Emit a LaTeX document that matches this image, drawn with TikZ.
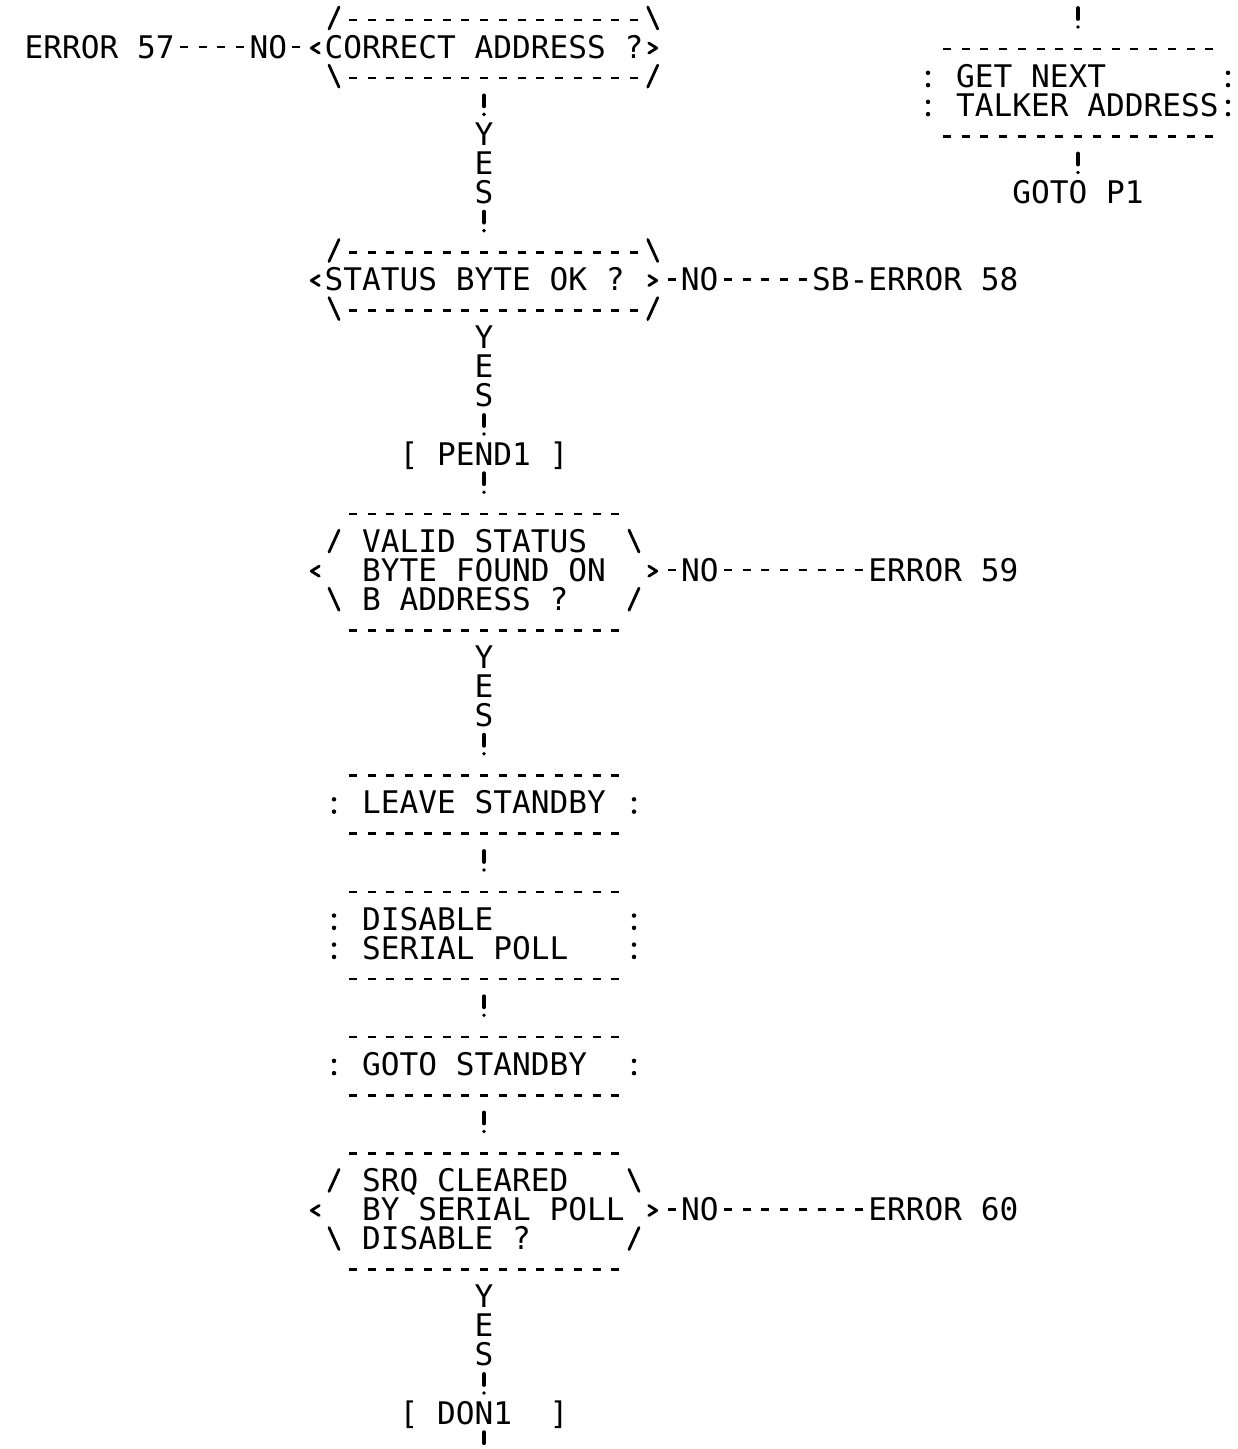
\documentclass[tikz,border=0pt]{standalone}
\usepackage{fontspec}
\setmonofont{DejaVu Sans Mono}

\begin{document}
\begin{tikzpicture}[
  x=1pt, y=-1pt,
  every node/.append style={font=\ttfamily\fontsize{31.14pt}{29.06pt}\selectfont, inner sep=0pt,
    execute at begin node={\spaceskip=18.7479pt\relax\xspaceskip=18.7479pt\relax}},
  lbl/.style={text height=22.7pt, text depth=0pt, minimum height=29.06pt},
  nolbl/.style={lbl, fill=white},
  yes/.style={fill=white, text width=18.75pt, align=center, minimum height=87.18pt},
  decision/.style={text width=318.75pt, align=left, inner xsep=18.75pt, minimum height=87.18pt},
  query/.style={text width=243.75pt, align=left, inner xsep=56.25pt, minimum height=145.3pt},
  procbox/.style={text width=243.75pt, align=left, inner xsep=37.5pt, minimum height={29.06pt*(#1+2)}},
  dashline/.style={line width=2.6pt, dash pattern=on 8pt off 10.75pt},
  colons/.style={line width=4.5pt, line cap=round, dash pattern=on 0pt off 12.3pt on 0pt off 16.76pt},
  glyph/.style={line width=2.8pt, line cap=round, line join=round},
  noline/.style={line width=2.6pt, dash pattern=on 8pt off 10.75pt, dash phase=13.375pt},
  bang/.style={line width=3.8pt, line cap=round, dash pattern=on 11pt off 8pt on 0pt off 10.06pt, dash phase=24.53pt},
  pics/boxframe/.style={code={
    \draw[dashline] (-135.25,{-14.53*(#1+1)+2}) -- (135.25,{-14.53*(#1+1)+2});
    \draw[dashline] (-135.25,{14.53*(#1+1)+2}) -- (135.25,{14.53*(#1+1)+2});
    \foreach \sx in {-150,150}
      \draw[colons] (\sx,{-14.53*(#1-1)-3.3}) -- (\sx,{14.53*(#1-1)+9.5});
  }},
  pics/hexone/.style={code={
    \draw[dashline] (-135.25,-27.06) -- (154,-27.06);
    \draw[dashline] (-135.25,31.06) -- (154,31.06);
    \draw[glyph] (-155,-18.06) -- (-145,-40.06) (163.75,-40.06) -- (173.75,-18.06);
    \draw[glyph] (-164.75,-4) -- (-172.75,1) -- (-164.75,6) (164.75,-4) -- (172.75,1) -- (164.75,6);
    \draw[glyph] (-155,18.06) -- (-145,40.06) (163.75,40.06) -- (173.75,18.06);
  }},
  pics/hexthree/.style={code={
    \draw[dashline] (-135.25,-56.12) -- (135.25,-56.12);
    \draw[dashline] (-135.25,60.12) -- (135.25,60.12);
    \draw[glyph] (-155,-18.06) -- (-145,-40.06) (145,-40.06) -- (155,-18.06);
    \draw[glyph] (-164.75,-4) -- (-172.75,1) -- (-164.75,6) (164.75,-4) -- (172.75,1) -- (164.75,6);
    \draw[glyph] (-155,18.06) -- (-145,40.06) (145,40.06) -- (155,18.06);
  }}
]
\path[use as bounding box, fill=white] (0,0) rectangle (1238,1449);

\node[decision] (correct) at (484,47.06) {CORRECT ADDRESS ?};
\node[lbl] (err57) at (99.63,47.06) {ERROR 57};
\node[decision] (status) at (484,279.54) {STATUS BYTE OK ?};
\node[lbl] (err58) at (915.25,279.54) {SB-ERROR 58};
\node[lbl] (pend1) at (484,453.9) {[ PEND1 ]};
\node[query] (valid) at (484,570.14) {VALID STATUS\\BYTE FOUND ON\\B ADDRESS ?};
\node[lbl] (err59) at (943.38,570.14) {ERROR 59};
\node[procbox=1] (leave) at (484,802.62) {LEAVE STANDBY};
\node[procbox=2] (disable) at (484,933.39) {DISABLE\\SERIAL POLL};
\node[procbox=1] (gotosb) at (484,1064.16) {GOTO STANDBY};
\node[query] (srq) at (484,1209.46) {SRQ CLEARED\\\mbox{BY SERIAL POLL}\\DISABLE ?};
\node[lbl] (err60) at (943.38,1209.46) {ERROR 60};
\node[lbl] (don1) at (484,1412.88) {[ DON1~~]};
\coordinate (exit) at (484,1456.47);

\coordinate (entry) at (1078,3.47);
\node[procbox=2] (getnext) at (1078,90.65) {GET NEXT\\\mbox{TALKER ADDRESS}};
\node[lbl] (gotop1) at (1078,192.36) {GOTO P1};

\pic at (correct) {hexone};
\pic at (status) {hexone};
\pic at (valid) {hexthree};
\pic at (srq) {hexthree};
\pic at (leave) {boxframe=1};
\pic at (disable) {boxframe=2};
\pic at (gotosb) {boxframe=1};
\pic at (getnext) {boxframe=2};

\draw[noline] (correct) -- node[nolbl, pos=.2857] (no57) {NO} (err57);
\draw[noline] (status) -- node[nolbl, pos=.25] (no58) {NO} (err58);
\draw[noline] (valid) -- node[nolbl, pos=.1818] (no59) {NO} (err59);
\draw[noline] (srq) -- node[nolbl, pos=.1818] (no60) {NO} (err60);

\draw[bang] (entry) -- (getnext);
\draw[bang] (getnext) -- (gotop1);
\draw[bang] (correct) -- node[yes] (yes1) {Y\\E\\S} (status);
\draw[bang] (status) -- node[yes, pos=.375] (yes2) {Y\\E\\S} (pend1);
\draw[bang] (pend1) -- (valid);
\draw[bang] (valid) -- node[yes, pos=.375] (yes3) {Y\\E\\S} (leave);
\draw[bang] (leave) -- (disable);
\draw[bang] (disable) -- (gotosb);
\draw[bang] (gotosb) -- (srq);
\draw[bang] (srq) -- node[yes, pos=.375] (yes4) {Y\\E\\S} (don1);
\draw[bang] (don1) -- (exit);
\end{tikzpicture}
\end{document}
